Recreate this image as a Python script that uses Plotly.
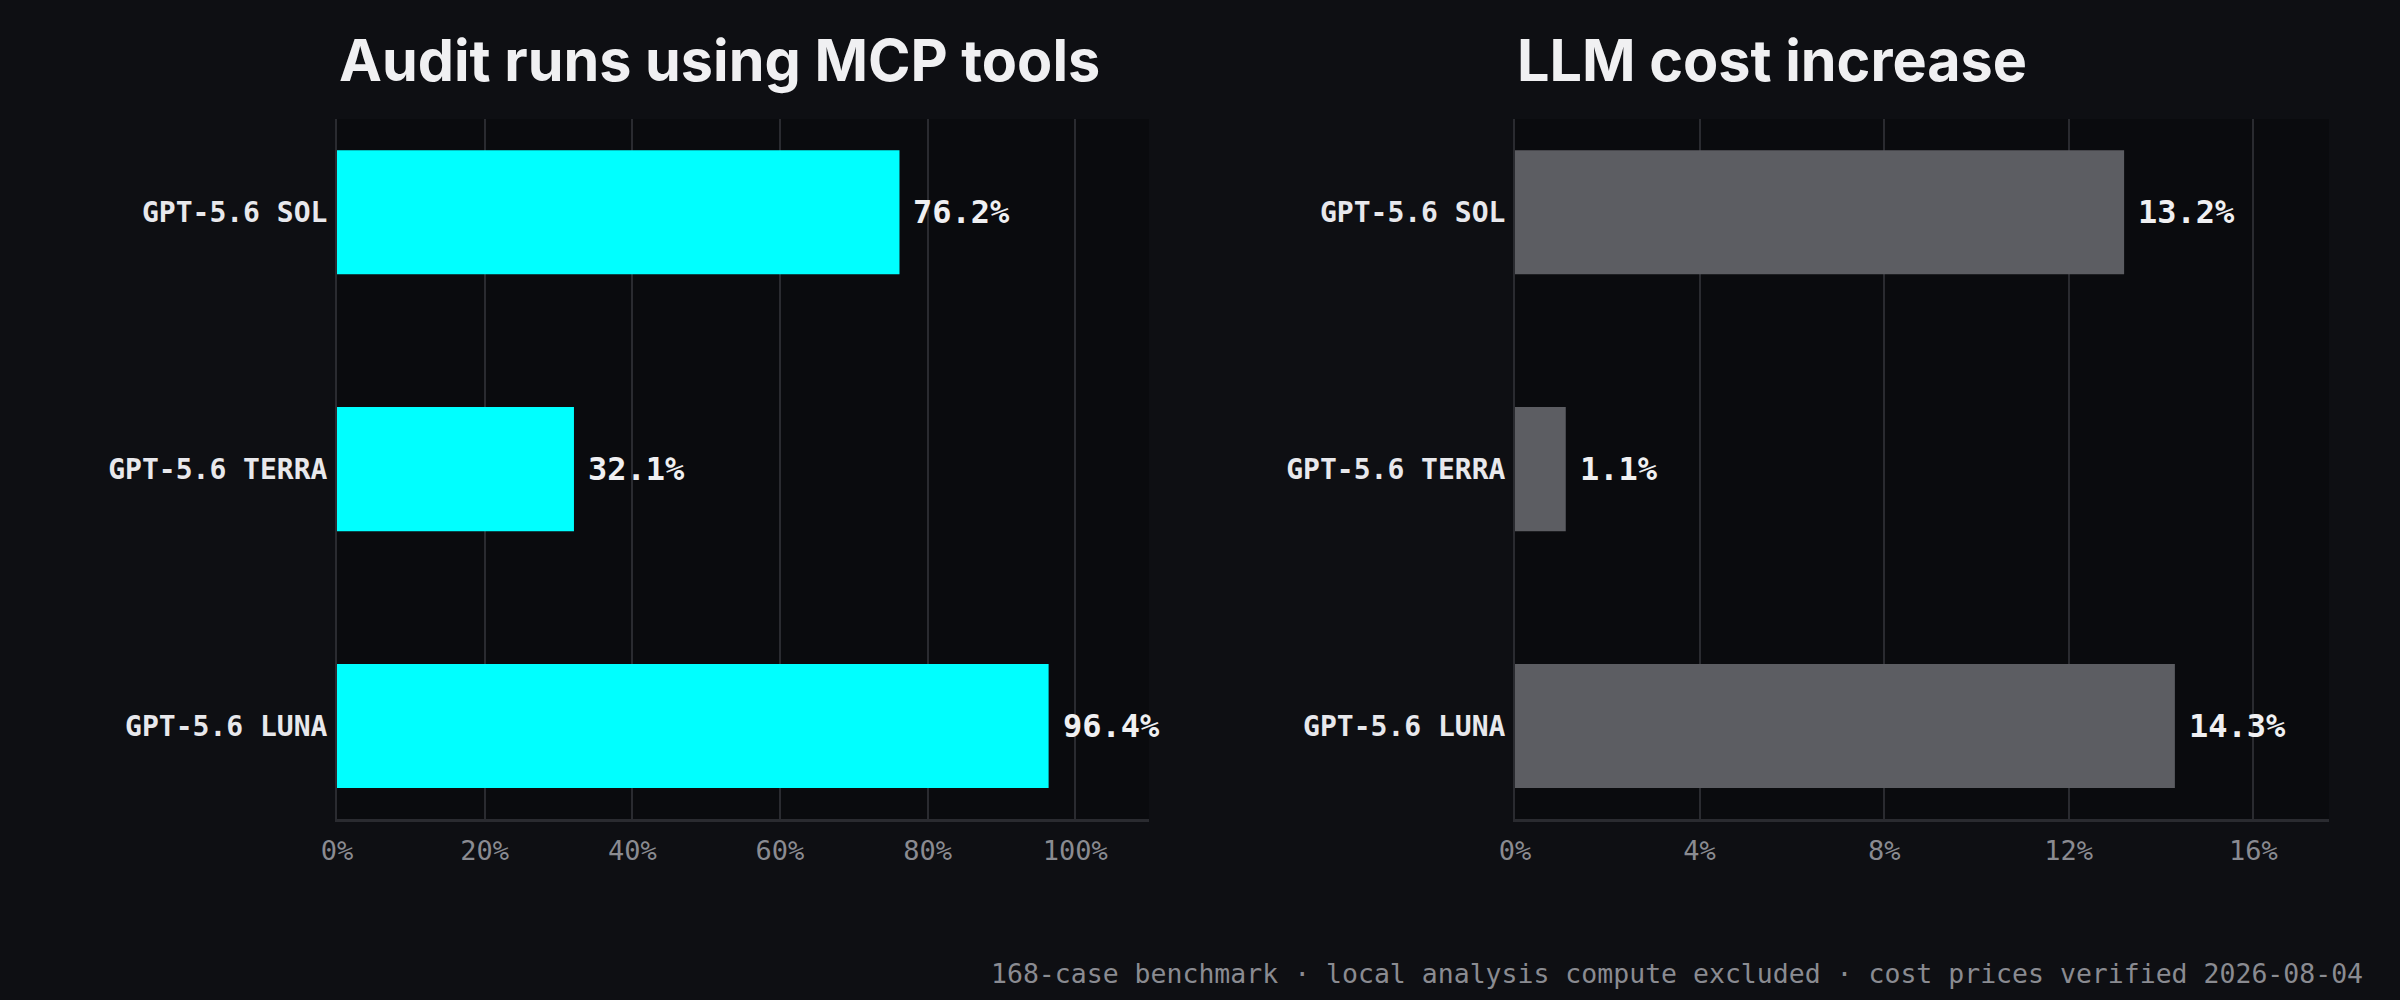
import plotly.graph_objects as go
from plotly.subplots import make_subplots

models = ["GPT-5.6 SOL", "GPT-5.6 TERRA", "GPT-5.6 LUNA"]
mcp_share = [76.2, 32.1, 96.4]
cost_increase = [13.2, 1.1, 14.3]
mcp_ticks = [0, 20, 40, 60, 80, 100]
cost_ticks = [0, 4, 8, 12, 16]
titles = ["Audit runs using MCP tools", "LLM cost increase"]
footer = "168-case benchmark · local analysis compute excluded · cost prices verified 2026-08-04"

PAPER = "#0e0f13"
PLOT = "#0a0b0e"
GRID = "#2a2b30"
LABEL = "#e8e8ec"
MUTED = "#8a8b91"
MONO = "DejaVu Sans Mono"

fig = make_subplots(rows=1, cols=2)

fig.add_trace(
    go.Bar(x=mcp_share, y=models, orientation="h", marker_color="#00ffff",
           marker_line_width=0, hoverinfo="skip"),
    row=1, col=1,
)
fig.add_trace(
    go.Bar(x=cost_increase, y=models, orientation="h", marker_color="#5c5d62",
           marker_line_width=0, hoverinfo="skip"),
    row=1, col=2,
)

# value labels just past the bar ends
for xref, yref, values in [("x", "y", mcp_share), ("x2", "y2", cost_increase)]:
    for m, v in zip(models, values):
        fig.add_annotation(
            x=v, y=m, xref=xref, yref=yref, text=f"{v:.1f}%",
            showarrow=False, xanchor="left", yanchor="middle", xshift=12,
            font=dict(family=MONO, size=32, color="#f0f0f2", weight="bold"),
        )

# panel titles, left aligned with each plot area
for xref, t in [("x domain", titles[0]), ("x2 domain", titles[1])]:
    fig.add_annotation(
        x=0, y=1.084, xref=xref, yref="paper", text=t, showarrow=False,
        xanchor="left", yanchor="middle",
        font=dict(family="Inter", size=57.5, color="#f0f0f2", weight="bold"),
    )

fig.add_annotation(
    x=2365 / 2400, y=-0.221, xref="paper", yref="paper", text=footer,
    showarrow=False, xanchor="right", yanchor="middle",
    font=dict(family=MONO, size=26.5, color=MUTED),
)

xaxis_common = dict(
    showgrid=True, gridcolor=GRID, gridwidth=2, zeroline=False,
    showline=True, linecolor=GRID, linewidth=3, ticks="",
    ticklabelstandoff=6, automargin=False,
    tickfont=dict(family=MONO, size=27, color=MUTED),
)
yaxis_common = dict(
    type="category", categoryorder="array", categoryarray=models,
    range=[2.362, -0.363], showgrid=False, zeroline=False,
    showline=True, linecolor=GRID, linewidth=2, ticks="",
    ticklabelstandoff=2, automargin=False,
    tickfont=dict(family=MONO, size=28, color=LABEL, weight="bold"),
)

fig.update_xaxes(**xaxis_common)
fig.update_yaxes(**yaxis_common)
fig.update_layout(
    xaxis=dict(domain=[337 / 2400, 1149 / 2400], range=[0, 110],
               tickmode="array", tickvals=mcp_ticks,
               ticktext=[f"{t}%" for t in mcp_ticks]),
    xaxis2=dict(domain=[1515 / 2400, 2329 / 2400], range=[0, 17.64],
                tickmode="array", tickvals=cost_ticks,
                ticktext=[f"{t}%" for t in cost_ticks]),
    width=2400,
    height=1000,
    margin=dict(l=0, r=0, t=119, b=181),
    paper_bgcolor=PAPER,
    plot_bgcolor=PLOT,
    bargap=0.517,
    showlegend=False,
)

# drop the page's default white body margin
fig.write_html(
    "out.html",
    config={"displayModeBar": False},
    post_script="document.body.style.margin='0';document.body.style.background='#0e0f13';",
)
